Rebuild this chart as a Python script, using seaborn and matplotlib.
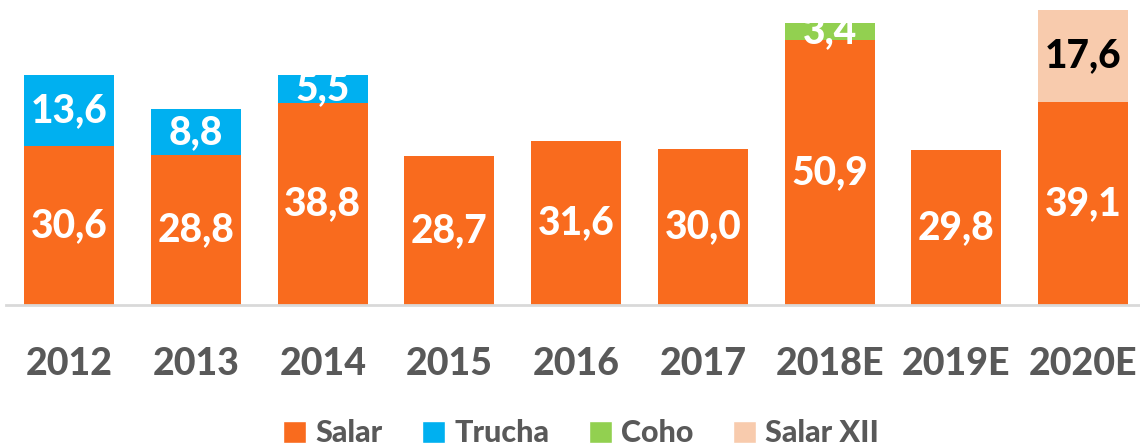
import numpy as np
import matplotlib.pyplot as plt
import seaborn as sns
from matplotlib.patches import Patch

sns.set_style("white")
plt.rcParams['font.family'] = ['Lato', 'DejaVu Sans']

years = ['2012', '2013', '2014', '2015', '2016', '2017', '2018E', '2019E', '2020E']
salar = [30.6, 28.8, 38.8, 28.7, 31.6, 30.0, 50.9, 29.8, 39.1]
trucha = [13.6, 8.8, 5.5, 0, 0, 0, 0, 0, 0]
coho = [0, 0, 0, 0, 0, 0, 3.4, 0, 0]
salar_xii = [0, 0, 0, 0, 0, 0, 0, 0, 17.6]

series = [('Salar', salar, '#F96B1E', 'white'),
          ('Trucha', trucha, '#00B0F0', 'white'),
          ('Coho', coho, '#92D050', 'white'),
          ('Salar XII', salar_xii, '#F8CBAD', 'black')]

fig = plt.figure(figsize=(11.4, 4.48), dpi=100)
ax = fig.add_axes([6 / 1140, 1 - 305 / 448, 1 - 6 / 1140, 305 / 448])

bottom = np.zeros(len(years))
for name, vals, col, tcol in series:
    vals = np.array(vals)
    sns.barplot(x=years, y=vals, bottom=bottom, color=col, width=0.71,
                ax=ax, saturation=1, linewidth=0)
    for i, v in enumerate(vals):
        if v > 0:
            ax.text(i, bottom[i] + v / 2, f'{v:.1f}'.replace('.', ','),
                    ha='center', va='center', color=tcol,
                    fontsize=28, fontweight='black')
    bottom = bottom + vals

ax.set_xlim(-0.5, 8.45)
ax.set_ylim(0, 58.65)
ax.set_yticks([])
for s in ['top', 'right', 'left']:
    ax.spines[s].set_visible(False)
ax.spines['bottom'].set_color('#D9D9D9')
ax.spines['bottom'].set_linewidth(2)
ax.tick_params(axis='x', length=0, pad=30, labelsize=27, labelcolor='#595959')
for lbl in ax.get_xticklabels():
    lbl.set_fontweight('black')

handles = [Patch(facecolor=c, label=n) for n, _, c, _ in series]
leg = fig.legend(handles=handles, loc='lower center', ncol=4, frameon=False,
                 bbox_to_anchor=(0.51, -0.06), fontsize=22, handlelength=0.75,
                 handleheight=0.75, handletextpad=0.3, columnspacing=1.3)
for t in leg.get_texts():
    t.set_color('#595959')
    t.set_fontweight('black')

fig.savefig('out.png', dpi=100)
